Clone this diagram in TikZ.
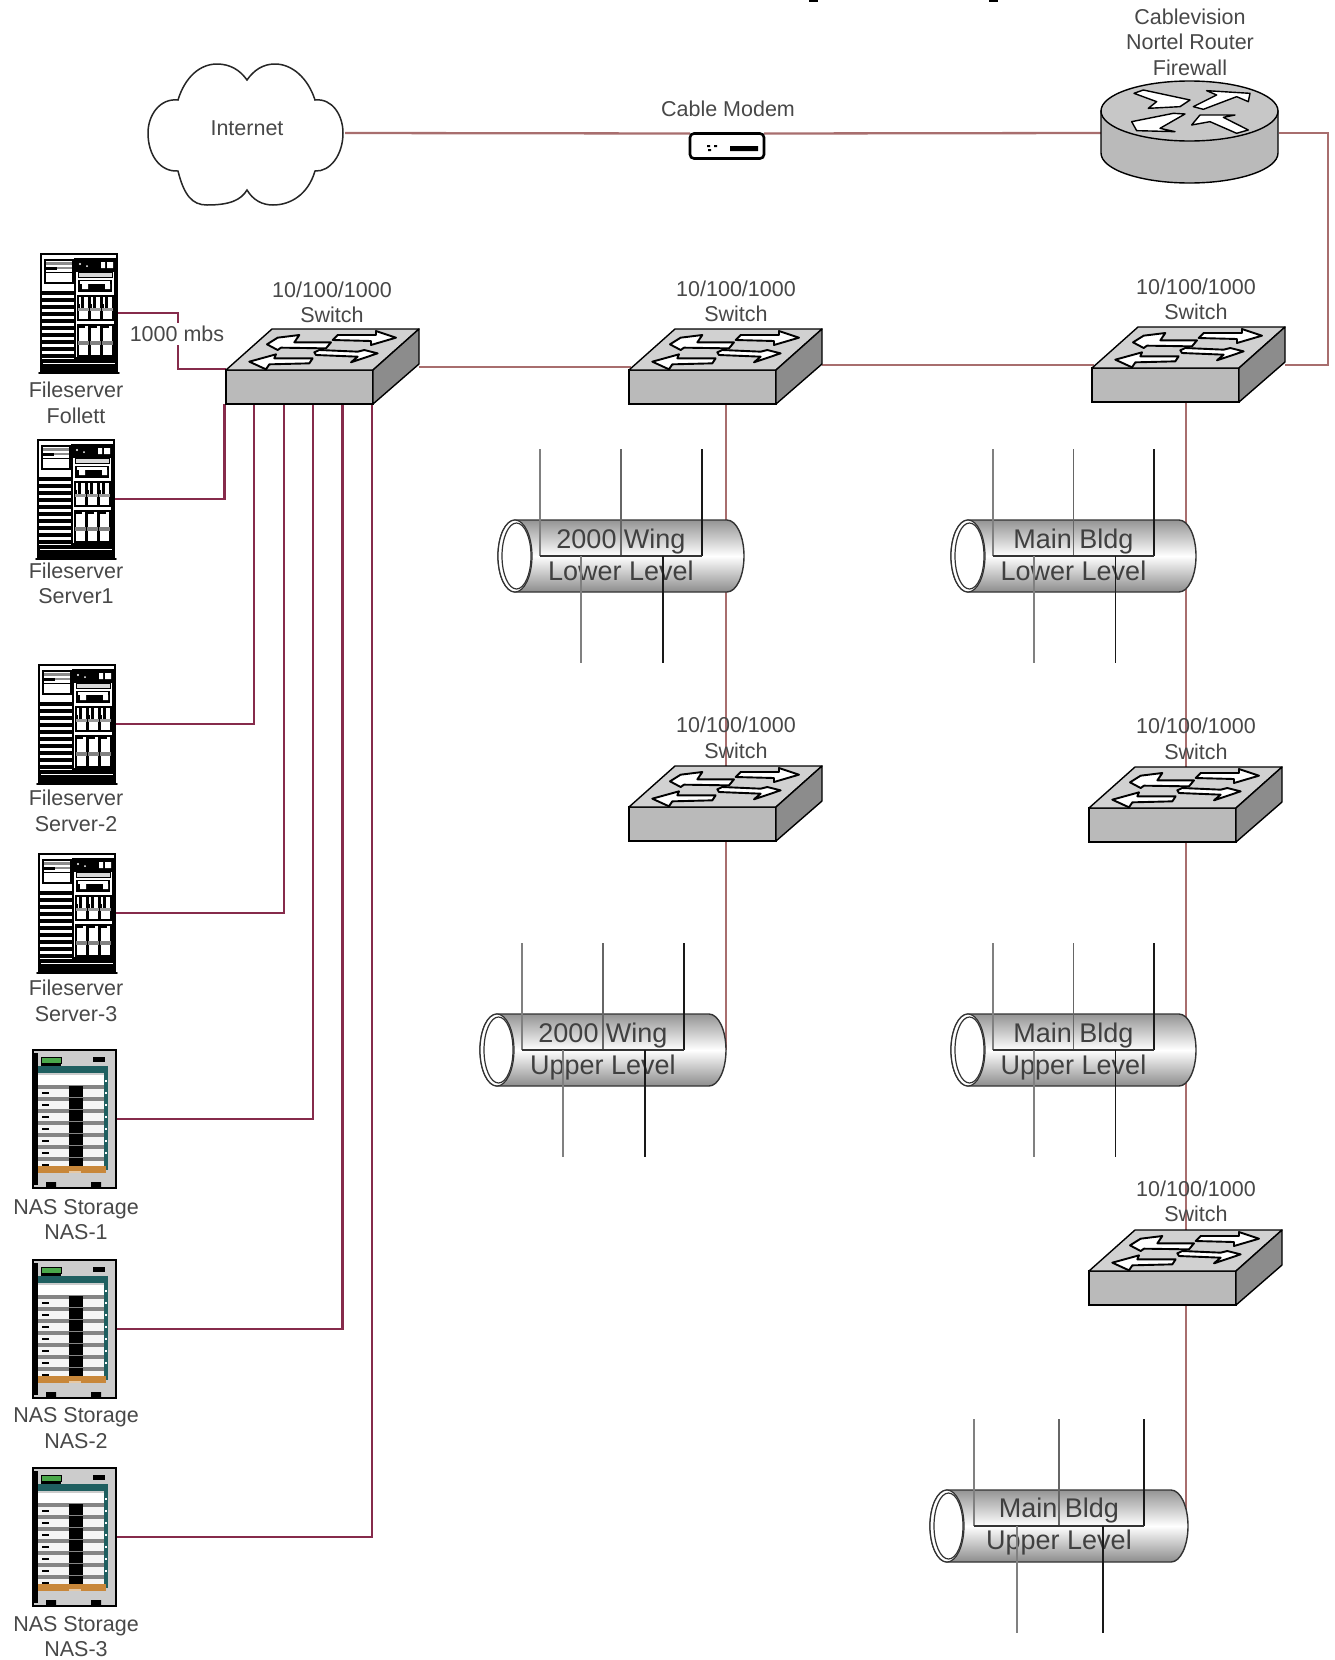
\documentclass[tikz,border=0pt]{standalone}
\usepackage{fontspec}
\setmainfont{Liberation Sans}
\pgfdeclarelayer{bg}
\pgfsetlayers{bg,main}
\definecolor{txtc}{HTML}{484848}
\definecolor{linkc}{HTML}{A86E6E}
\definecolor{srvc}{HTML}{862B4B}
\definecolor{tealc}{HTML}{1F5F60}
\definecolor{orc}{HTML}{C8873A}
\definecolor{grnc}{HTML}{4AA84A}
\tikzset{
  lab/.style={align=center,text=txtc,inner sep=0pt,font=\fontsize{21.5}{25.5}\selectfont},
  pipelab/.style={align=center,text=black!75,inner sep=0pt,font=\fontsize{27}{32}\selectfont},
  link/.style={draw=linkc,line width=2.3pt},
  srvlink/.style={draw=srvc,line width=2.6pt},
  ghost/.style={inner sep=0pt,outer sep=0pt,draw=none},
  swfront/.style={draw=black,line width=1.4pt,fill=black!27,inner sep=0pt,outer sep=0pt,minimum width=147pt,minimum height=34pt,anchor=north west},
  swarrow/.style={fill=white,draw=black,line width=1.9pt,line join=round},
}
\newcommand{\switchunit}[5]{%
  \node[swfront] (#1) at (#2,#3) {};
  \begin{scope}[shift={(#2,#3)}]
    \filldraw[fill=black!18,draw=black,line width=1.4pt,line join=round] (0,0)--(46,-41)--(193,-41)--(147,0)--cycle;
    \filldraw[fill=black!45,draw=black,line width=1.4pt,line join=round] (147,0)--(193,-41)--(193,-6)--(147,34)--cycle;
    \begin{scope}[shift={(-31.67,-68.33)},x=.3333pt,y=-.3333pt]
      \filldraw[swarrow] (415,115)--(430,100)--(545,100)--(545,88)--(605,108)--(530,130)--(530,118)--cycle;
      \filldraw[swarrow] (360,152)--(375,145)--(490,150)--(510,145)--(550,155)--(470,182)--(490,165)--(365,160)--cycle;
      \filldraw[swarrow] (410,122)--(300,122)--(315,100)--(250,108)--(218,128)--(250,145)--(260,138)--(395,140)--cycle;
      \filldraw[swarrow] (355,170)--(240,170)--(245,158)--(165,180)--(215,203)--(225,188)--(345,185)--cycle;
    \end{scope}
    \coordinate (#1b) at (97,34);
    \coordinate (#1t) at (97,-41);
  \end{scope}
  \coordinate (#1l) at (#2+2,#4);
  \coordinate (#1r) at (#2+193,#5);}
\newcommand{\serverunit}[3]{%
  \node[ghost,anchor=north west,minimum width=76pt,minimum height=118pt] (#1) at (#2,#3) {};
  \begin{scope}[shift={(#2,#3)}]
    \filldraw[fill=white,draw=black,line width=1.5pt] (0,0) rectangle (76,118);
    \draw[line width=1.2pt,fill=white] (4,6) rectangle (32,29);
    \fill[black!45] (5,8) rectangle (31,11);
    \fill[black] (5,13) rectangle (16,16);
    \fill[black!45] (16,13) rectangle (31,15);
    \draw[line width=.8pt] (5,18)--(31,18);
    \foreach \i in {0,...,9} {\fill[black] (0,37+7*\i) rectangle (33,41+7*\i);}
    \draw[line width=1.3pt] (34,5) rectangle (74,104);
    \fill[black] (34,5) rectangle (74,18);
    \fill[white] (39,10) circle (1.1) (46,12) circle (1) (60,8) rectangle (64,14) (66,8) rectangle (72,14);
    \draw[line width=.8pt,fill=black!15] (37,18) rectangle (71,23);
    \fill[black] (37,26) rectangle (71,38);
    \fill[white] (39,27) rectangle (69,30);
    \fill[white] (41,30) rectangle (47,35) (64,30) rectangle (69,35);
    \foreach \c in {37,49,61} {
      \draw[line width=1.1pt,fill=white] (\c,42) rectangle (\c+11,66);
      \fill[black] (\c+3,42) rectangle (\c+6,56);
      \fill[black] (\c,50) rectangle (\c+2,56);
      \fill[black!40] (\c,54) rectangle (\c+11,57);
      \draw[line width=1.1pt,fill=white] (\c,71) rectangle (\c+11,102);
      \fill[black] (\c,71) rectangle (\c+7,74);
      \fill[black!50] (\c,87) rectangle (\c+11,91);
    }
    \fill[black] (0,105) rectangle (76,118);
    \draw[white,line width=.9pt] (2,109)--(74,109);
    \draw[line width=1.6pt,line cap=round] (-2,119)--(78,119);
  \end{scope}}
\newcommand{\nasunit}[3]{%
  \node[ghost,anchor=north west,minimum width=83pt,minimum height=138pt] (#1) at (#2,#3) {};
  \begin{scope}[shift={(#2,#3)}]
    \filldraw[fill=black!20,draw=black,line width=1.4pt] (0,0) rectangle (83,138);
    \fill[black] (0,3) rectangle (5,135);
    \filldraw[fill=grnc,draw=black,line width=.9pt] (8,7) rectangle (28,13);
    \fill[black] (60,7) rectangle (72,12);
    \fill[black] (8,14) rectangle (28,16);
    \fill[tealc] (5,16) rectangle (75,23);
    \fill[tealc] (71,23) rectangle (75,120);
    \fill[white] (5,25) rectangle (71,35);
    \foreach \i in {0,...,6} {
      \fill[black!48] (5,35+12*\i) rectangle (71,39+12*\i);
      \fill[white!96!black] (5,39+12*\i) rectangle (71,47+12*\i);
      \fill[black] (36,36+12*\i) rectangle (50,47+12*\i);
      \fill[black] (9,42+12*\i) rectangle (16,44+12*\i);
      \fill[white] (72,30+12*\i) rectangle (74,32+12*\i);
    }
    \fill[orc] (5,116) rectangle (73,123);
    \fill[orc!45!white] (36,121) rectangle (48,123);
    \fill[black] (13,132) rectangle (23,138) (58,132) rectangle (68,138);
  \end{scope}}
\newcommand{\pipeunit}[7]{%
  \node[ghost,anchor=north west,minimum width=#4 pt,minimum height=#5 pt] (#1) at (#2,#3) {};
  \pgfmathsetmacro\kk{#4/246}
  \pgfmathsetmacro\rhh{#5/2}
  \begin{scope}[shift={(#2,#3)}]
    \path[draw=black!80,line width=1.4pt,top color=black!42,bottom color=black!45,middle color=white]
      (17,0) -- (#4-17,0) arc[start angle=90,end angle=-90,x radius=17pt,y radius=\rhh pt]
      -- (17,#5) arc[start angle=270,end angle=90,x radius=17pt,y radius=\rhh pt] -- cycle;
    \filldraw[fill=white,draw=black!80,line width=1.2pt] (17,\rhh) ellipse[x radius=17pt,y radius=\rhh pt];
    \filldraw[fill=white,draw=black!80,line width=1.2pt] (18.5,\rhh) ellipse[x radius=14.5pt,y radius=\rhh pt-3pt];
    \node[pipelab] (#1txt) at (#4/2,\rhh+#7) {#6};
    \draw[line width=2.2pt,draw=black!50] (42*\kk,-71)--(42*\kk,36);
    \draw[line width=1.9pt,draw=black!60] (123*\kk,-71)--(123*\kk,36);
    \draw[line width=1.5pt,draw=black!90] (204*\kk,-71)--(204*\kk,36);
    \draw[line width=1.6pt,draw=black!80] (42*\kk,36)--(204*\kk,36);
    \draw[line width=2.2pt,draw=black!50] (83*\kk,36)--(83*\kk,#5+71);
    \draw[line width=1.5pt,draw=black!90] (165*\kk,36)--(165*\kk,#5+71);
  \end{scope}}
\begin{document}
\begin{tikzpicture}[x=1pt,y=-1pt]
\useasboundingbox (0,0) rectangle (1334,1660);
\begin{pgfonlayer}{bg}
  \fill[white] (0,0) rectangle (1334,1660);
\end{pgfonlayer}

% cropped title fragments
\fill[black] (809,0) rectangle (818,2);
\fill[black] (989,0) rectangle (998,2);

% internet
\draw[black!85,line width=1.5pt,fill=white] (178,100)
  .. controls (185,77) and (200,64) .. (217,64)
  .. controls (230,64) and (240,70) .. (247,80)
  .. controls (254,70) and (263,64) .. (275,64)
  .. controls (292,64) and (308,78) .. (315,100)
  .. controls (332,98) and (343,115) .. (343,133)
  .. controls (343,155) and (330,172) .. (315,171)
  .. controls (308,195) and (290,205) .. (273,205)
  .. controls (262,205) and (253,200) .. (247,190)
  .. controls (241,200) and (230,205) .. (207,205)
  .. controls (192,205) and (184,195) .. (178,171)
  .. controls (160,172) and (148,155) .. (148,133)
  .. controls (148,115) and (160,98) .. (178,100) -- cycle;
\node[lab] (internet) at (247,128) {Internet};
\coordinate (cloudE) at (345,133);

% modem
\node[lab] (modemlab) at (728,109) {Cable Modem};
\node[draw=black,line width=2.6pt,rounded corners=4pt,fill=white,minimum width=74pt,minimum height=25pt,inner sep=0pt,outer sep=0pt] (modem) at (727,146) {};
\fill[black] (707,145) rectangle (710,147) (714,145) rectangle (717,147) (708,149) rectangle (711,151) (730,146) rectangle (758,151);

% router
\node[ghost,minimum width=178pt,minimum height=102pt] (router) at (1190,133) {};
\filldraw[fill=black!27,draw=black,line width=1.4pt] (1101,111) -- (1101,153) arc[start angle=180,end angle=360,x radius=88.5pt,y radius=30pt] -- (1278,111) -- cycle;
\filldraw[fill=black!22,draw=black,line width=1.4pt] (1189.5,111) ellipse[x radius=88.5pt,y radius=30pt];
\begin{scope}[shift={(1060,0)},x=.3333pt,y=-.3333pt]
  \filldraw[swarrow,line width=1.4pt] (222,280)--(250,270)--(390,300)--(360,320)--(265,325)--(290,305)--cycle;
  \filldraw[swarrow,line width=1.4pt] (400,320)--(470,285)--(440,272)--(570,280)--(565,305)--(530,290)--(430,328)--cycle;
  \filldraw[swarrow,line width=1.4pt] (215,365)--(340,340)--(375,342)--(300,385)--(345,395)--(230,392)--cycle;
  \filldraw[swarrow,line width=1.4pt] (395,375)--(420,345)--(525,345)--(490,352)--(565,390)--(530,400)--(450,365)--cycle;
\end{scope}
\node[lab] (routerlab) at (1190,42) {Cablevision\\Nortel Router\\Firewall};

% switches
\switchunit{swa}{226}{370}{367}{367}
\switchunit{swb}{629}{370}{367}{365}
\switchunit{swc}{1092}{368}{365}{365}
\switchunit{swd}{629}{807}{803}{803}
\switchunit{swe}{1089}{808}{804}{804}
\switchunit{swf}{1089}{1271}{1267}{1267}
\node[lab] (swalab) at (332,302.5) {10/100/1000\\Switch};
\node[lab] (swblab) at (736,301.5) {10/100/1000\\Switch};
\node[lab] (swclab) at (1196,299.5) {10/100/1000\\Switch};
\node[lab] (swdlab) at (736,738) {10/100/1000\\Switch};
\node[lab] (swelab) at (1196,739) {10/100/1000\\Switch};
\node[lab] (swflab) at (1196,1201.5) {10/100/1000\\Switch};

% stations
\serverunit{sa}{41}{254}
\serverunit{sb}{38}{440}
\serverunit{sc}{39}{665}
\serverunit{sd}{39}{854}
\nasunit{na}{33}{1050}
\nasunit{nb}{33}{1260}
\nasunit{nc}{33}{1468}
\node[lab] (salab) at (76,403) {Fileserver\\Follett};
\node[lab] (sblab) at (76,583.5) {Fileserver\\Server1};
\node[lab] (sclab) at (76,811) {Fileserver\\Server-2};
\node[lab] (sdlab) at (76,1001) {Fileserver\\Server-3};
\node[lab] (nalab) at (76,1219.5) {NAS Storage\\NAS-1};
\node[lab] (nblab) at (76,1428) {NAS Storage\\NAS-2};
\node[lab] (nclab) at (76,1636.5) {NAS Storage\\NAS-3};

% pipes
\pipeunit{pa}{498}{520}{246}{72}{2000 Wing\\Lower Level}{-1}
\pipeunit{pb}{951}{520}{245}{72}{Main Bldg\\Lower Level}{-1}
\pipeunit{pc}{480}{1014}{246}{72}{2000 Wing\\Upper Level}{2}
\pipeunit{pd}{951}{1014}{245}{72}{Main Bldg\\Upper Level}{2}
\pipeunit{pe}{930}{1490}{258}{72}{Main Bldg\\Upper Level}{0}

% switch ports on the left switch
\coordinate (pt1) at (224.5,404);
\coordinate (pt2) at (254,404);
\coordinate (pt3) at (284,404);
\coordinate (pt4) at (313,404);
\coordinate (pt5) at (342.5,404);
\coordinate (pt6) at (372,404);
\coordinate (sajog) at (178,369);

\begin{pgfonlayer}{bg}
  \draw[link] (cloudE) -- (modem.north west);
  \draw[link] (modem.north east) -- (router.west);
  \draw[link] (router.east) -- (1328,133) -- (1328,365) -- (swcr);
  \draw[link] (swar) -- (swbl);
  \draw[link] (swbr) -- (swcl);
  \draw[link] (swbb) -- (swdt);
  \draw[link] (swdb) -- (pc.east);
  \draw[link] (swet |- swcb) -- (swet);
  \draw[link] (sweb) -- (swft);
  \draw[link] (swfb) -- (1186,1525);
  \draw[srvlink] (sa.east) -| (sajog) -- (swa.north west |- sajog);
  \draw[srvlink] (sb.east) -| (pt1);
  \draw[srvlink] (sc.east) -| (pt2);
  \draw[srvlink] (sd.east) -| (pt3);
  \draw[srvlink] (na.east) -| (pt4);
  \draw[srvlink] (nb.east) -| (pt5);
  \draw[srvlink] (nc.east) -| (pt6);
\end{pgfonlayer}
\node[lab,fill=white,inner ysep=3pt,inner xsep=2pt] (mbs) at (177,334) {1000 mbs};
\end{tikzpicture}
\end{document}
